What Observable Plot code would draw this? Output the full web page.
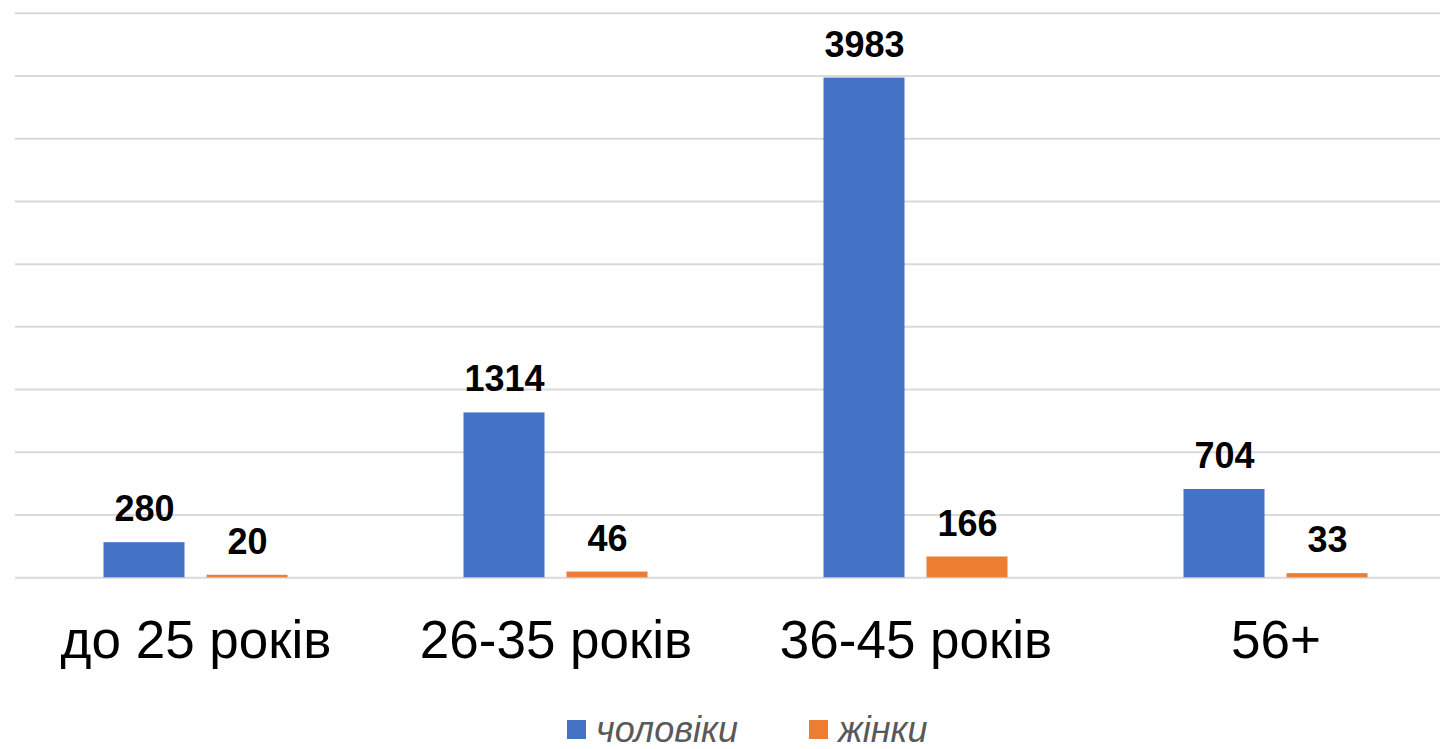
<!DOCTYPE html>
<html>
<head>
<meta charset="utf-8">
<script src="https://cdn.jsdelivr.net/npm/d3@7"></script>
<script src="https://cdn.jsdelivr.net/npm/@observablehq/plot@0.6"></script>
<style>
  html, body { margin: 0; padding: 0; background: #fff; overflow: hidden; }
  #chart svg { display: block; }
  .legend { position: relative; height: 39px;
    font-family: "Liberation Sans", Arial, sans-serif; font-style: italic; font-size: 36px; color: #595959; }
  .legend .item { display: flex; align-items: center; position: absolute; top: 3px; line-height: 33px; }
  .legend .sw { width: 19px; height: 19px; display: inline-block; margin-right: 10px; }
</style>
</head>
<body>
<div id="chart"></div>
<div class="legend">
  <div class="item" style="left:567px;"><span class="sw" style="background:#4472C4"></span><span>чоловіки</span></div>
  <div class="item" style="left:809px;"><span class="sw" style="background:#ED7D31"></span><span>жінки</span></div>
</div>
<script>
const categories = ["до 25 років", "26-35 років", "36-45 років", "56+"];
const men = [280, 1314, 3983, 704];
const women = [20, 46, 166, 33];
const seriesNames = ["чоловіки", "жінки"];
const seriesColors = ["#4472C4", "#ED7D31"];
const gridTicks = [0, 500, 1000, 1500, 2000, 2500, 3000, 3500, 4000, 4500];

const menData = categories.map((c, i) => ({cat: c, value: men[i], series: seriesNames[0]}));
const womenData = categories.map((c, i) => ({cat: c, value: women[i], series: seriesNames[1]}));

const H = 710;
const plotTop = 12.7, plotBase = 577.3;
const off = 51.5;

const chart = Plot.plot({
  width: 1440,
  height: H,
  marginLeft: 15,
  marginRight: 0,
  marginTop: plotTop,
  marginBottom: H - plotBase,
  style: {fontFamily: "'Liberation Sans', Arial, sans-serif", background: "#fff", overflow: "hidden"},
  x: {domain: categories, range: [15, 1455], paddingInner: 0.775, paddingOuter: 0.3875, align: 0.5, label: null},
  y: {domain: [0, 4500], range: [plotBase, plotTop], axis: null},
  marks: [
    Plot.ruleY(gridTicks, {stroke: "#d9d9d9", strokeWidth: 2}),
    Plot.barY(menData, {x: "cat", y: "value", fill: seriesColors[0], dx: -off}),
    Plot.barY(womenData, {x: "cat", y: "value", fill: seriesColors[1], dx: off}),
    Plot.text(menData, {x: "cat", y: "value", text: d => String(d.value), dx: -off, dy: -33,
      fontSize: 36, fontWeight: "bold", fill: "#000"}),
    Plot.text(womenData, {x: "cat", y: "value", text: d => String(d.value), dx: off, dy: -33,
      fontSize: 36, fontWeight: "bold", fill: "#000"}),
    Plot.axisX({tickSize: 0, tickPadding: 43, fontSize: 53, label: null, fill: "#000"})
  ]
});
document.getElementById("chart").appendChild(chart);
</script>
</body>
</html>
